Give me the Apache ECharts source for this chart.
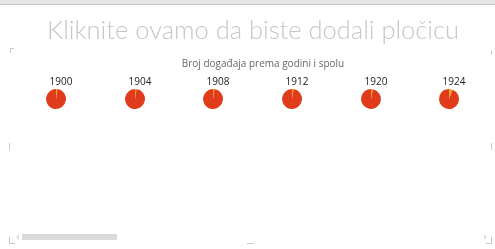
<!DOCTYPE html>
<html><head><meta charset="utf-8">
<script src="https://cdn.jsdelivr.net/npm/echarts@6/dist/echarts.min.js"></script>
<style>html,body{margin:0;padding:0;background:#fff}#c{width:495px;height:249px}</style>
</head><body><div id="c"></div>
<script>
const years = ['1900', '1904', '1908', '1912', '1920', '1924'];
const female = [2.5, 2.5, 2.5, 2.5, 3, 6];
const male = [97.5, 97.5, 97.5, 97.5, 97, 94];
const seriesNames = ['Žene', 'Muškarci'];
const colors = ['#F3A521', '#E03C1B'];
const centersX = [56, 135, 213, 292, 371, 449];

const chart = echarts.init(document.getElementById('c'), null, {renderer: 'canvas'});
const titles = [
  {text: 'Kliknite ovamo da biste dodali pločicu', left: 248, top: 13, textAlign: 'center',
   textStyle: {fontFamily: 'Lato', fontWeight: 300, fontSize: 25.5, color: '#c6c6c6'}},
  {text: 'Broj događaja prema godini i spolu', left: 258, top: 54, textAlign: 'center',
   textStyle: {fontFamily: 'Open Sans', fontWeight: 'normal', fontSize: 10, color: '#666'}}
];
years.forEach((y, i) => titles.push({text: y, left: centersX[i], top: 72, textAlign: 'center',
  textStyle: {fontFamily: 'Open Sans', fontWeight: 'normal', fontSize: 10, color: '#222'}}));
const series = years.map((y, i) => ({
  type: 'pie', center: [centersX[i], 99], radius: 10, startAngle: 90, clockwise: true,
  label: {show: false}, labelLine: {show: false}, silent: true, animation: false,
  itemStyle: {borderWidth: 0},
  data: [{name: seriesNames[0], value: female[i]}, {name: seriesNames[1], value: male[i]}]
}));
const lc = '#c8c8c8';
const bracket = (pts) => ({type: 'polyline', shape: {points: pts}, style: {stroke: lc, lineWidth: 1, fill: null}});
chart.setOption({
  color: colors,
  animation: false,
  title: titles,
  series: series,
  graphic: [
    {type: 'rect', shape: {x: 0, y: 0, width: 495, height: 4}, style: {fill: '#e6e6e6'}},
    {type: 'rect', shape: {x: 0, y: 4, width: 495, height: 1}, style: {fill: '#c4c4c4'}},
    bracket([[10.5, 53], [10.5, 48.5], [14, 48.5]]),
    bracket([[491.5, 51], [491.5, 55]]),
    bracket([[9.5, 143], [9.5, 150]]),
    bracket([[491.5, 143], [491.5, 150]]),
    bracket([[9.5, 237], [9.5, 243.5], [15, 243.5]]),
    bracket([[486, 243.5], [491.5, 243.5], [491.5, 237]]),
    {type: 'rect', shape: {x: 247, y: 243, width: 7, height: 1}, style: {fill: lc}},
    {type: 'rect', shape: {x: 22, y: 234, width: 95, height: 6}, style: {fill: '#dadada'}},
    {type: 'polygon', shape: {points: [[19, 234], [16, 237], [19, 240]]}, style: {fill: '#e0e0e0'}},
    {type: 'polygon', shape: {points: [[484, 234], [487, 237], [484, 240]]}, style: {fill: '#e0e0e0'}}
  ]
});
</script></body></html>
